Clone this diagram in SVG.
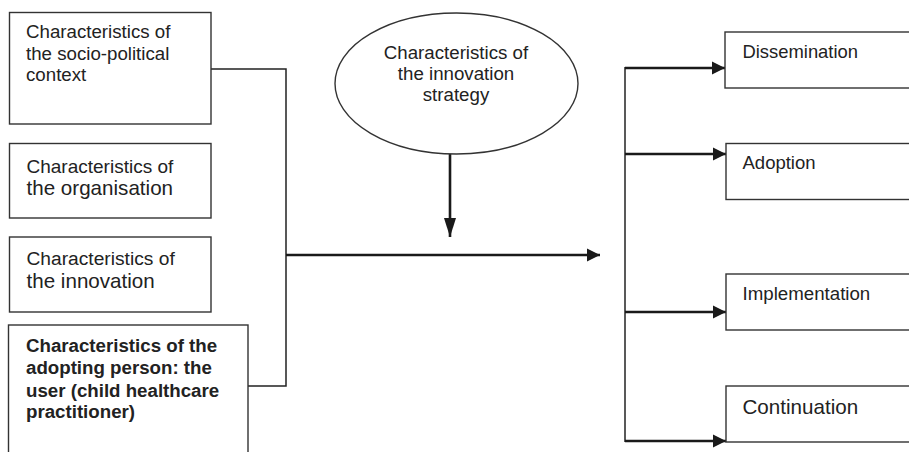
<svg xmlns="http://www.w3.org/2000/svg" width="909" height="452" viewBox="0 0 909 452">
<style>
.box{fill:#fff;stroke:#333;stroke-width:1.4}
.t{font-family:"Liberation Sans",Arial,sans-serif;fill:#222;font-size:18.7px}
.b{font-weight:bold}
.ln{fill:none;stroke:#222;stroke-width:1.5}
.ar{fill:none;stroke:#1a1a1a;stroke-width:2.6}
</style>
<defs>
<marker id="ah" markerUnits="userSpaceOnUse" markerWidth="14" markerHeight="14" viewBox="0 0 14 14" refX="13" refY="7" orient="auto">
<path d="M0,0.5 L13,7 L0,13.5 Z" fill="#1a1a1a"/>
</marker>
<marker id="ahv" markerUnits="userSpaceOnUse" markerWidth="20" markerHeight="14" viewBox="0 0 20 14" refX="19" refY="7" orient="auto">
<path d="M0,1 L19,7 L0,13 Z" fill="#1a1a1a"/>
</marker>
</defs>
<rect width="909" height="452" fill="#fff"/>
<g id="connectors">
<polyline class="ln" points="211,69 286,69 286,386 248,386"/>
<line class="ar" x1="286" y1="255" x2="600" y2="255" marker-end="url(#ah)"/>
<line class="ar" x1="450" y1="154" x2="450" y2="237" marker-end="url(#ahv)"/>
<line class="ln" x1="625" y1="67" x2="625" y2="442"/>
<line class="ar" x1="625" y1="68" x2="725" y2="68" marker-end="url(#ah)"/>
<line class="ar" x1="625" y1="154" x2="726" y2="154" marker-end="url(#ah)"/>
<line class="ar" x1="625" y1="312" x2="726" y2="312" marker-end="url(#ah)"/>
<line class="ar" x1="625" y1="441" x2="726" y2="441" marker-end="url(#ah)"/>
</g>
<g id="n-sociopolitical">
<rect class="box" x="9.5" y="12.5" width="201.5" height="111.5"/>
<text class="t" x="26" y="38">Characteristics of</text>
<text class="t" x="26" y="59.5">the socio-political</text>
<text class="t" x="26" y="81">context</text>
</g>
<g id="n-organisation">
<rect class="box" x="9.5" y="143.5" width="201.5" height="74.5"/>
<text class="t" x="26.5" y="173" style="font-size:19px">Characteristics of</text>
<text class="t" x="26.5" y="195" style="font-size:20.6px">the organisation</text>
</g>
<g id="n-innovation">
<rect class="box" x="9.5" y="237" width="201.5" height="75"/>
<text class="t" x="26.5" y="265" style="font-size:19.2px">Characteristics of</text>
<text class="t" x="26.5" y="288" style="font-size:20.6px">the innovation</text>
</g>
<g id="n-user">
<rect class="box" x="8.5" y="325" width="239.5" height="140"/>
<text class="t b" x="26" y="352">Characteristics of the</text>
<text class="t b" x="26" y="374">adopting person: the</text>
<text class="t b" x="26" y="396.5">user (child healthcare</text>
<text class="t b" x="26" y="418">practitioner)</text>
</g>
<g id="n-strategy">
<ellipse class="box" cx="456.5" cy="83.5" rx="121.5" ry="70.5"/>
<text class="t" x="456" y="58.5" text-anchor="middle">Characteristics of</text>
<text class="t" x="456" y="79.5" text-anchor="middle">the innovation</text>
<text class="t" x="456" y="101" text-anchor="middle">strategy</text>
</g>
<g id="n-dissemination">
<rect class="box" x="725" y="32" width="200" height="56"/>
<text class="t" x="742.5" y="58.3" style="font-size:18.4px">Dissemination</text>
</g>
<g id="n-adoption">
<rect class="box" x="726" y="143.5" width="200" height="56"/>
<text class="t" x="742.5" y="168.5" style="font-size:18.5px">Adoption</text>
</g>
<g id="n-implementation">
<rect class="box" x="726" y="274" width="200" height="56"/>
<text class="t" x="742.5" y="299.5">Implementation</text>
</g>
<g id="n-continuation">
<rect class="box" x="726" y="386" width="200" height="56"/>
<text class="t" x="742.5" y="413.5" style="font-size:20.6px">Continuation</text>
</g>
</svg>
